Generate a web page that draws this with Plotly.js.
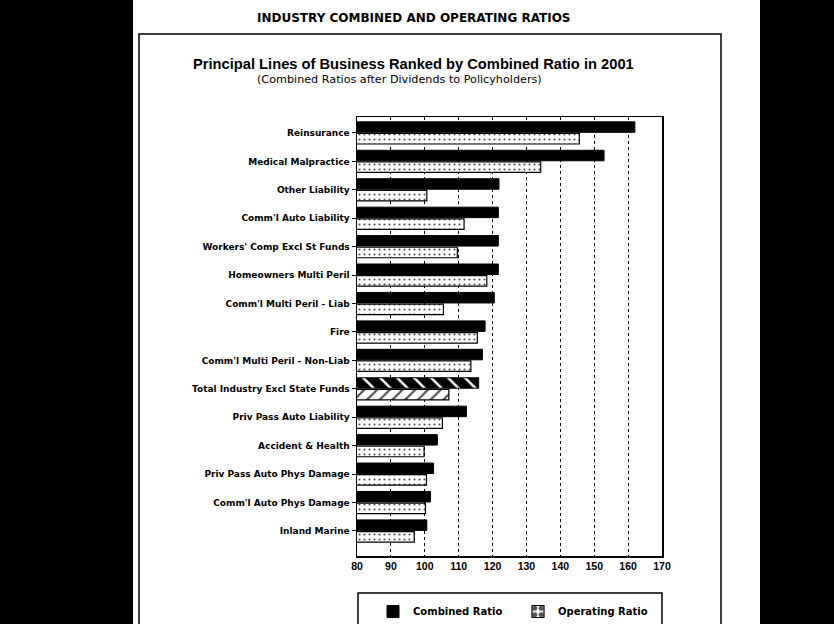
<!DOCTYPE html>
<html>
<head>
<meta charset="utf-8">
<script src="https://cdn.plot.ly/plotly-3.0.1.min.js"></script>
<style>
  html, body { margin: 0; padding: 0; background: #ffffff; }
  #chart { width: 834px; height: 624px; }
</style>
</head>
<body>
<div id="chart"></div>
<script>
// ---- data ----
var categories = [
  "Reinsurance",
  "Medical Malpractice",
  "Other Liability",
  "Comm'l Auto Liability",
  "Workers' Comp Excl St Funds",
  "Homeowners Multi Peril",
  "Comm'l Multi Peril - Liab",
  "Fire",
  "Comm'l Multi Peril - Non-Liab",
  "Total Industry Excl State Funds",
  "Priv Pass Auto Liability",
  "Accident & Health",
  "Priv Pass Auto Phys Damage",
  "Comm'l Auto Phys Damage",
  "Inland Marine"
];
var combinedRatio = [162.0, 152.9, 121.9, 121.7, 121.7, 121.7, 120.5, 117.8, 117.0, 115.9, 112.3, 103.7, 102.6, 101.7, 100.6];
var operatingRatio = [145.6, 134.2, 100.6, 111.6, 109.6, 118.3, 105.5, 115.5, 113.6, 107.1, 105.2, 99.8, 100.5, 100.2, 96.9];
var xTickValues = [80, 90, 100, 110, 120, 130, 140, 150, 160, 170];
var highlightCategory = "Total Industry Excl State Funds";

// ---- geometry helpers (pixel -> paper) ----
var PL = 357, PR = 662, PT = 117, PB = 556;
function px(x) { return (x - PL) / (PR - PL); }
function py(y) { return (PB - y) / (PB - PT); }

var combShapes = categories.map(function (c) { return c === highlightCategory ? "\\" : ""; });
var opShapes = categories.map(function (c) { return c === highlightCategory ? "/" : "."; });
var opSizes = categories.map(function (c) { return c === highlightCategory ? 9 : 5; });
var opSolid = categories.map(function (c) { return c === highlightCategory ? 0.25 : 0.15; });

var font = "Liberation Sans, Arial, Helvetica, sans-serif";
var wide = "DejaVu Sans, Verdana, sans-serif";

var traces = [
  {
    type: "bar",
    orientation: "h",
    name: "Combined Ratio",
    y: categories,
    x: combinedRatio,
    marker: {
      color: "#000000",
      line: { color: "#000000", width: 1 },
      pattern: { shape: combShapes, fgcolor: "#ffffff", bgcolor: "#000000", size: 12, solidity: 0.2, fillmode: "replace" }
    },
    hoverinfo: "x+y"
  },
  {
    type: "bar",
    orientation: "h",
    name: "Operating Ratio",
    y: categories,
    x: operatingRatio,
    marker: {
      color: "#ffffff",
      line: { color: "#000000", width: 1.2 },
      pattern: { shape: opShapes, fgcolor: "#555555", bgcolor: "#ffffff", size: opSizes, solidity: opSolid, fillmode: "replace" }
    },
    hoverinfo: "x+y"
  }
];

var layout = {
  width: 834,
  height: 624,
  margin: { l: PL, r: 834 - PR, t: PT, b: 624 - PB, pad: 0, autoexpand: false },
  paper_bgcolor: "#ffffff",
  plot_bgcolor: "#ffffff",
  font: { family: font, color: "#000000", size: 9 },
  barmode: "group",
  bargap: 0.18,
  bargroupgap: 0.1,
  showlegend: true,
  legend: {
    orientation: "h",
    x: px(373),
    xanchor: "left",
    y: py(597),
    yanchor: "top",
    font: { family: wide, size: 10, color: "#000000", weight: "bold" },
    bgcolor: "rgba(0,0,0,0)",
    borderwidth: 0,
    entrywidth: 100,
    entrywidthmode: "pixels",
    traceorder: "normal"
  },
  xaxis: {
    range: [80, 170],
    tickvals: xTickValues,
    ticktext: xTickValues.map(String),
    showgrid: true,
    gridcolor: "#000000",
    gridwidth: 1,
    griddash: "dot",
    showline: true,
    linecolor: "#000000",
    linewidth: 1.5,
    mirror: true,
    ticks: "",
    zeroline: false,
    tickfont: { family: font, size: 10.5, color: "#000000", weight: "bold" },
    fixedrange: true
  },
  yaxis: {
    type: "category",
    categoryorder: "array",
    categoryarray: categories,
    range: [14.88, -0.56],
    autorange: false,
    showgrid: false,
    showline: true,
    linecolor: "#000000",
    linewidth: 1.5,
    mirror: true,
    ticks: "outside",
    ticklen: 4,
    tickcolor: "#000000",
    tickwidth: 1,
    zeroline: false,
    tickfont: { family: wide, size: 9, color: "#000000", weight: "bold" },
    fixedrange: true
  },
  shapes: [
    // scanner black margins
    { type: "rect", xref: "paper", yref: "paper", x0: px(-10), x1: px(133), y0: py(640), y1: py(-10), fillcolor: "#000000", line: { width: 0 }, layer: "above" },
    { type: "rect", xref: "paper", yref: "paper", x0: px(760), x1: px(845), y0: py(640), y1: py(-10), fillcolor: "#000000", line: { width: 0 }, layer: "above" },
    // page frame
    { type: "path", xref: "paper", yref: "paper",
      path: "M " + px(139) + "," + py(640) + " L " + px(139) + "," + py(34) + " L " + px(721) + "," + py(34) + " L " + px(721) + "," + py(640),
      line: { color: "#000000", width: 1.5 }, layer: "above" },
    // legend box
    { type: "path", xref: "paper", yref: "paper",
      path: "M " + px(358) + "," + py(640) + " L " + px(358) + "," + py(593) + " L " + px(662) + "," + py(593) + " L " + px(662) + "," + py(640),
      line: { color: "#000000", width: 1.5 }, layer: "above" }
  ],
  annotations: [
    { text: "INDUSTRY COMBINED AND OPERATING RATIOS", xref: "paper", yref: "paper", x: px(414), y: py(18), xanchor: "center", yanchor: "middle", showarrow: false,
      font: { family: wide, size: 12, color: "#000000", weight: "bold" } },
    { text: "Principal Lines of Business Ranked by Combined Ratio in 2001", xref: "paper", yref: "paper", x: px(413), y: py(64), xanchor: "center", yanchor: "middle", showarrow: false,
      font: { family: font, size: 14.7, color: "#000000", weight: "bold" } },
    { text: "(Combined Ratios after Dividends to Policyholders)", xref: "paper", yref: "paper", x: px(399), y: py(80), xanchor: "center", yanchor: "middle", showarrow: false,
      font: { family: wide, size: 11.2, color: "#000000" } }
  ]
};

Plotly.newPlot("chart", traces, layout, { displayModeBar: false, staticPlot: true });
</script>
</body>
</html>
